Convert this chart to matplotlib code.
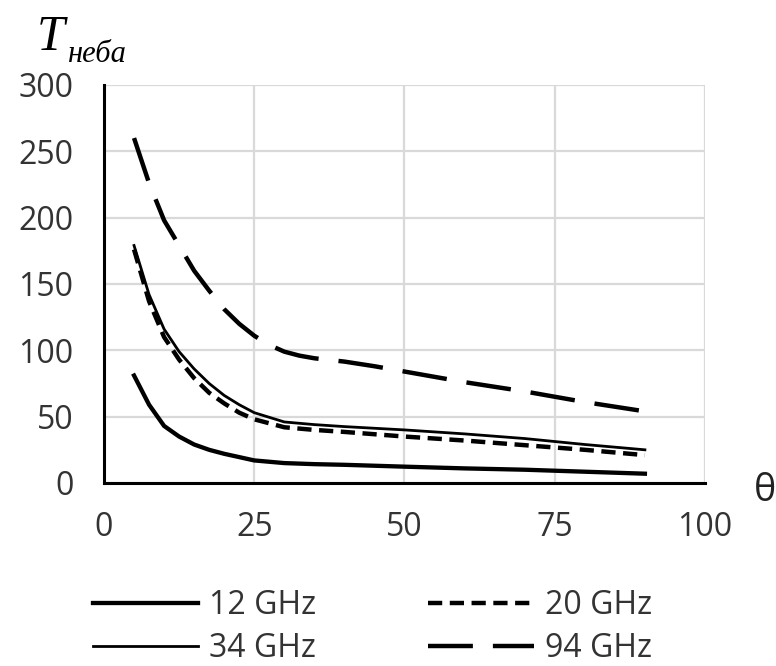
import matplotlib
matplotlib.use("Agg")
import matplotlib.pyplot as plt

# sky brightness temperature vs elevation angle, read per frequency
theta_12 = [5, 7.5, 10, 12.5, 15, 17.5, 20, 25, 30, 35, 40, 50, 60, 70, 80, 90]
t_12 = [81, 59, 43, 35, 29, 25, 22, 17, 15, 14.2, 13.7, 12.3, 11, 10, 8.5, 7]

theta_20 = [5, 7.5, 10, 12.5, 15, 17.5, 20, 22.5, 25, 30, 35, 40, 50, 60, 70, 80, 90]
t_20 = [176, 137, 110, 93, 79, 68, 60, 53, 48, 42, 40, 38.5, 35, 32, 28.5, 25, 21]

theta_34 = [5, 7.5, 10, 12.5, 15, 17.5, 20, 22.5, 25, 30, 35, 40, 50, 60, 70, 80, 90]
t_34 = [179, 142, 116, 99, 86, 75, 66, 59, 53, 46, 44, 42.5, 40, 37, 33.5, 29, 25]

theta_94 = [5, 7.5, 10, 12.5, 15, 17.5, 20, 22.5, 25, 27.5, 30, 32.5, 35, 40, 45, 50, 55, 60, 70, 80, 90]
t_94 = [260, 226, 198, 179, 160, 145, 131, 120, 111, 104, 99, 96, 94, 91.5, 88, 84, 80, 76, 69, 61, 54]

x_ticks = [0, 25, 50, 75, 100]
y_ticks = [0, 50, 100, 150, 200, 250, 300]

plt.rcParams["font.family"] = ["Open Sans", "DejaVu Sans"]

fig = plt.figure(figsize=(7.76, 6.66), dpi=100)
ax = fig.add_axes([0.134, 0.2748, 0.7745, 0.5976])

l12, = ax.plot(theta_12, t_12, color="black", lw=3.1, solid_joinstyle="round")
l20, = ax.plot(theta_20, t_20, color="black", lw=3.2, dashes=(3.2, 1.7))
l34, = ax.plot(theta_34, t_34, color="black", lw=2.0, solid_joinstyle="round")
l94, = ax.plot(theta_94, t_94, color="black", lw=3.2, dashes=(10.1, 4.5))

ax.set_xlim(0, 100)
ax.set_ylim(0, 300)
ax.set_xticks(x_ticks)
ax.set_yticks(y_ticks)
ax.grid(True, color="#d9d9d9", lw=1.6)
ax.set_axisbelow(True)
for s in ["top", "right"]:
    ax.spines[s].set_visible(False)
for s in ["left", "bottom"]:
    ax.spines[s].set_linewidth(2.2)
    ax.spines[s].set_zorder(5)
ax.tick_params(length=0, labelsize=23, colors="#333333")
ax.tick_params(axis="y", pad=22)
ax.tick_params(axis="x", pad=20)

fig.text(0.047, 0.925, "T", family="Liberation Serif", style="italic",
         fontsize=36, va="baseline", ha="left")
fig.text(0.087, 0.907, "неба", family="Liberation Serif", style="italic",
         fontsize=22, va="baseline", ha="left")
fig.text(0.986, 0.263, "θ", fontsize=27, ha="center", va="center", color="#222222")

leg = fig.legend([l12, l34, l20, l94], ["12 GHz", "34 GHz", "20 GHz", "94 GHz"],
                 ncol=2, frameon=False, loc="center", bbox_to_anchor=(0.48, 0.0586),
                 fontsize=23, handlelength=3.3, handletextpad=0.36,
                 columnspacing=3.5, labelspacing=0.32, labelcolor="#333333")

fig.savefig("out.png", dpi=100)
